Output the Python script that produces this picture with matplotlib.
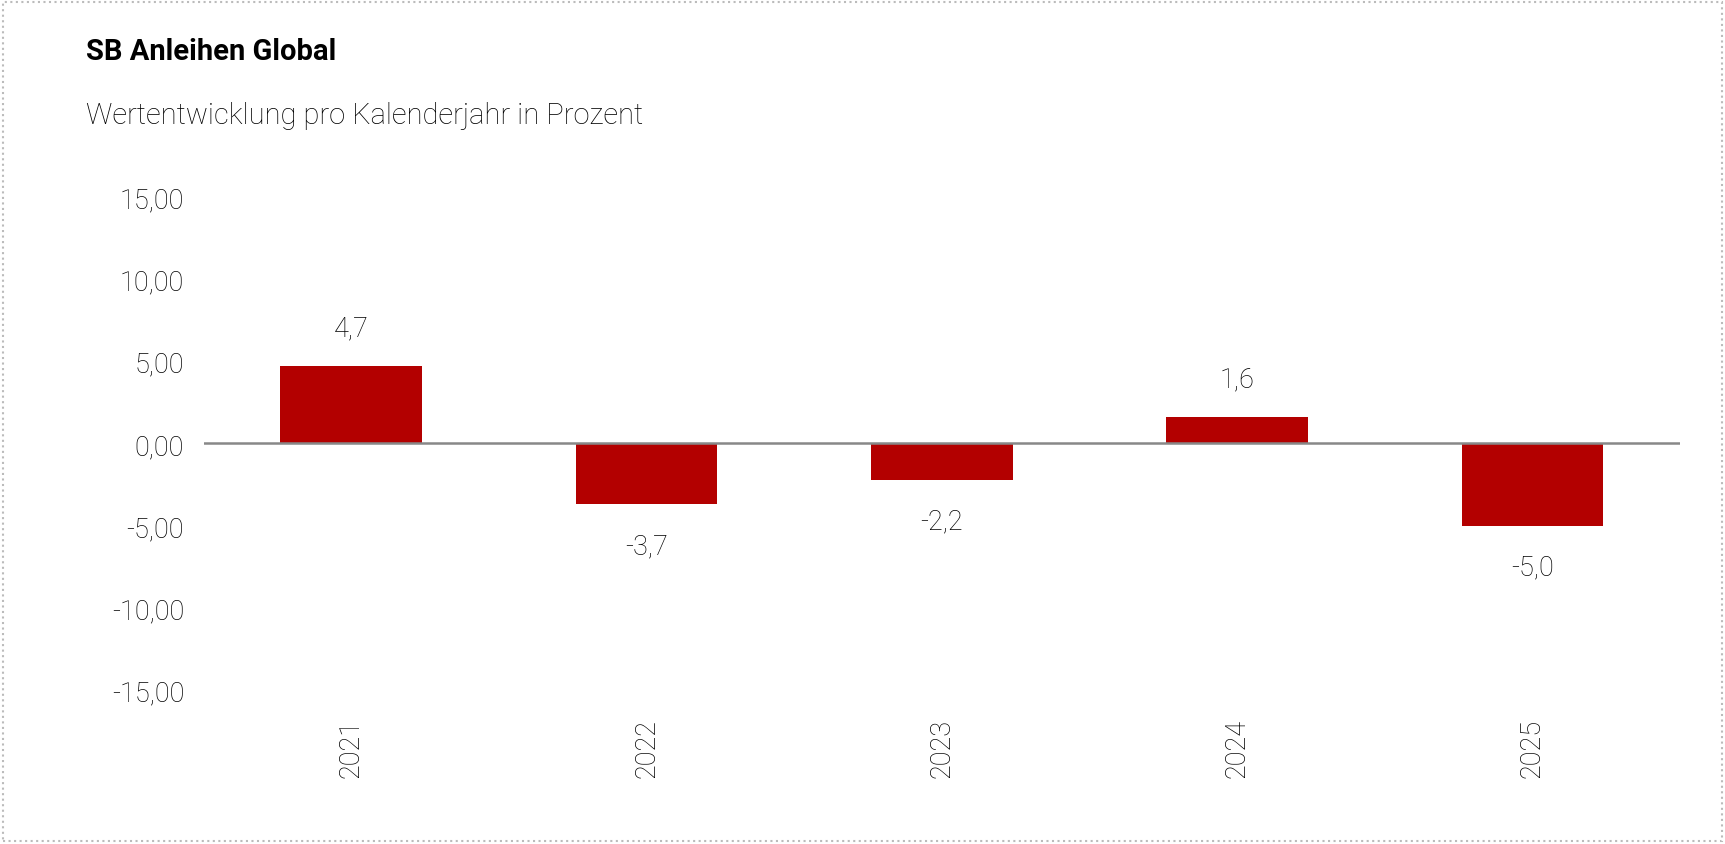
import matplotlib.pyplot as plt
from matplotlib.patches import Rectangle

years = ["2021", "2022", "2023", "2024", "2025"]
values = [4.7, -3.7, -2.2, 1.6, -5.0]
labels = ["4,7", "-3,7", "-2,2", "1,6", "-5,0"]
yticks = [-15, -10, -5, 0, 5, 10, 15]

RED = "#b30000"
plt.rcParams["font.family"] = ["Roboto", "DejaVu Sans"]

fig = plt.figure(figsize=(17.25, 8.45), dpi=100)
ax = fig.add_axes([0.118, 0.182, 0.856, 0.584])

x = range(len(years))
ax.bar(x, values, width=0.48, color=RED, zorder=2)
ax.axhline(0, color="#888888", linewidth=1.8, zorder=3)

for xi, v, lab in zip(x, values, labels):
    off = 2.3 if v >= 0 else -2.5
    ax.text(xi, v + off, lab, ha="center", va="center", fontsize=19.5, weight="light")

ax.set_xlim(-0.5, 4.5)
ax.set_ylim(-15, 15)
ax.set_yticks(yticks)
ax.set_yticklabels([f"{t:.2f}".replace(".", ",") for t in yticks], fontsize=19.5, weight="light")
ax.set_xticks(list(x))
ax.set_xticklabels(years, rotation=90, fontsize=19.5, weight="light")
ax.tick_params(length=0, pad=14)
ax.tick_params(axis="x", pad=20)
for s in ax.spines.values():
    s.set_visible(False)

fig.text(0.05, 0.938, "SB Anleihen Global", fontsize=21, weight="bold", va="center")
fig.text(0.05, 0.863, "Wertentwicklung pro Kalenderjahr in Prozent", fontsize=21,
         weight="light", va="center")

fig.patches.append(Rectangle((0.002, 0.003), 0.996, 0.994, transform=fig.transFigure,
                             fill=False, edgecolor="#bbbbbb", linestyle=":", linewidth=1.5))

fig.savefig("out.png", dpi=100, facecolor="white")
